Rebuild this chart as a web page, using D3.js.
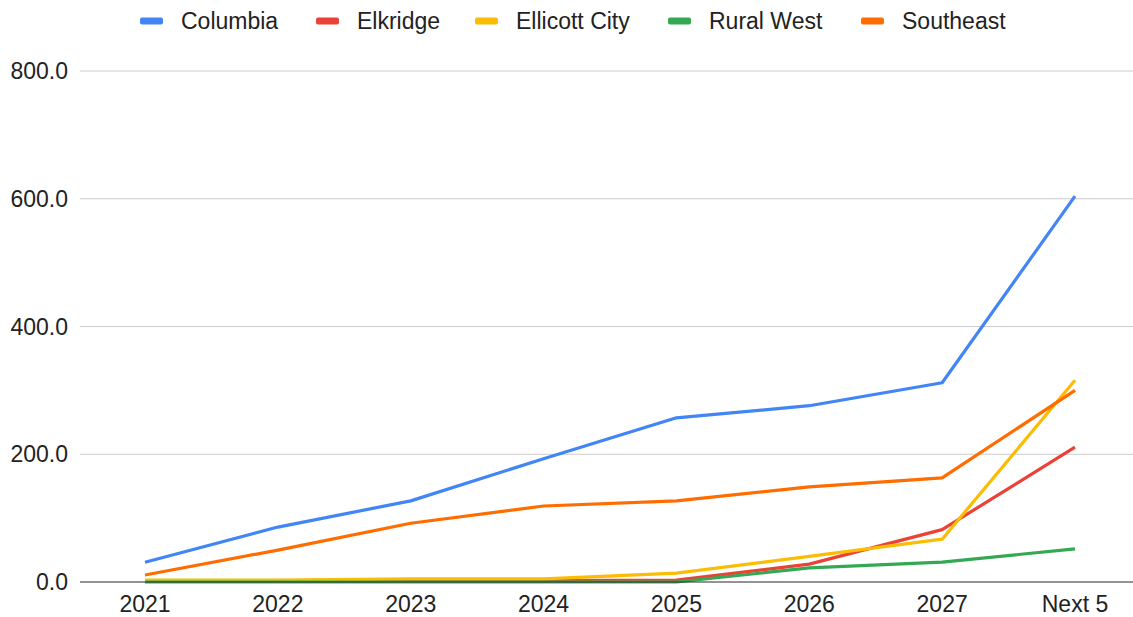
<!DOCTYPE html>
<html><head><meta charset="utf-8">
<script src="https://cdn.jsdelivr.net/npm/d3@7"></script>
<style>body{margin:0;background:#fff}svg{display:block;font-family:Arial,"Liberation Sans",sans-serif}</style>
</head><body><svg id="c" width="1133" height="617"></svg>
<script>
const categories = ["2021","2022","2023","2024","2025","2026","2027","Next 5"];
const seriesNames = ["Columbia","Elkridge","Ellicott City","Rural West","Southeast"];
const columbia = [31, 86, 127, 193, 257, 276, 312, 604];
const elkridge = [1, 1, 2, 2, 3, 28, 82, 211];
const ellicottCity = [3, 3, 5, 5, 14, 40, 67, 316];
const ruralWest = [0, 0, 0, 0, 0, 22, 31, 52];
const southeast = [11, 50, 92, 119, 127, 149, 163, 300];
const yTicks = [0, 200, 400, 600, 800];
const colors = ["#4285F4","#EA4335","#FBBC04","#34A853","#FF6D01"];
const allSeries = [columbia, elkridge, ellicottCity, ruralWest, southeast];

const svg = d3.select("#c");
const x = d3.scalePoint().domain(categories).range([145, 1075]);
const y = d3.scaleLinear().domain([0, 800]).range([582, 71]);
const fs = 23;

svg.append("g").selectAll("line").data(yTicks.filter(d=>d>0)).join("line")
  .attr("x1", 80).attr("x2", 1133).attr("y1", d=>y(d)).attr("y2", d=>y(d))
  .attr("stroke", "#cccccc").attr("stroke-width", 1);
svg.append("g").selectAll("text").data(yTicks).join("text")
  .attr("x", 68).attr("y", d=>y(d)).attr("dy", "0.35em").attr("text-anchor","end")
  .attr("font-size", fs).attr("fill", "#222").text(d=>d3.format(".1f")(d));
svg.append("g").selectAll("text").data(categories).join("text")
  .attr("x", d=>x(d)).attr("y", 612).attr("text-anchor","middle")
  .attr("font-size", fs).attr("fill", "#222").text(d=>d);

const line = d3.line().x((d,i)=>x(categories[i])).y(d=>y(d));
svg.append("g").selectAll("path").data(allSeries).join("path")
  .attr("d", d=>line(d)).attr("fill","none")
  .attr("stroke", (d,i)=>colors[i]).attr("stroke-width", 3.2)
  .attr("stroke-linejoin","round");

svg.append("line").attr("x1",80).attr("x2",1133).attr("y1",y(0)).attr("y2",y(0))
  .attr("stroke","#333").attr("stroke-width",1.5).attr("opacity",0.7);

const legendX = [140, 316, 475, 668, 861];
const lg = svg.append("g").selectAll("g").data(seriesNames).join("g")
  .attr("transform",(d,i)=>`translate(${legendX[i]},21)`);
lg.append("rect").attr("x",0).attr("y",-3.5).attr("width",23).attr("height",7).attr("rx",2)
  .attr("fill",(d,i)=>colors[i]);
lg.append("text").attr("x",41).attr("dy","0.35em").attr("font-size",fs).attr("fill","#222").text(d=>d);
</script></body></html>
